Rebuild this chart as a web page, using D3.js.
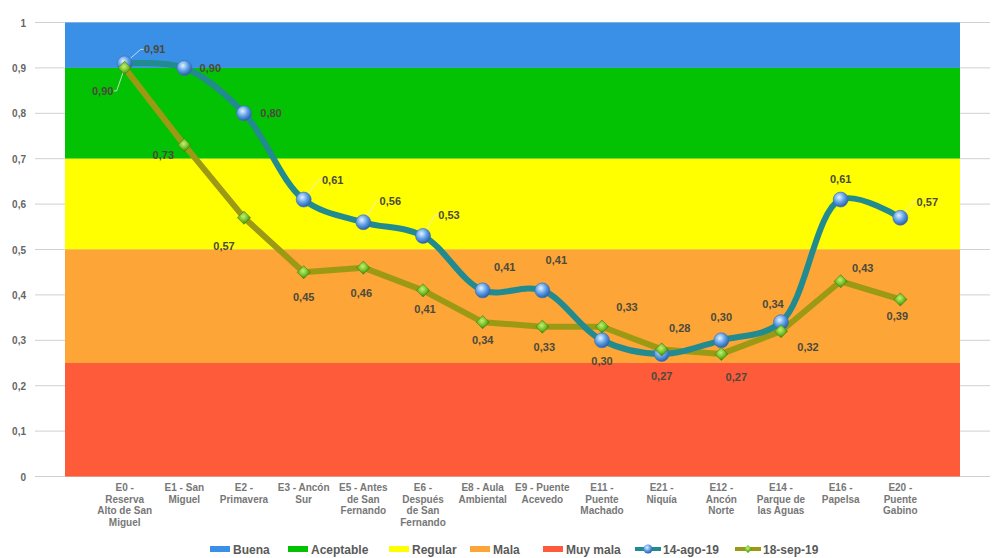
<!DOCTYPE html>
<html>
<head>
<meta charset="utf-8">
<script src="https://cdn.jsdelivr.net/npm/d3@7"></script>
<style>
  body { margin: 0; background: #fff; }
  text { font-family: "Liberation Sans", Arial, sans-serif; }
</style>
</head>
<body>
<svg id="drawing_region"></svg>
<script>
var width = 996;
var height = 558;

// data
var categories = [
  "E0 -\nReserva\nAlto de San\nMiguel",
  "E1 - San\nMiguel",
  "E2 -\nPrimavera",
  "E3 - Ancón\nSur",
  "E5 - Antes\nde San\nFernando",
  "E6 -\nDespués\nde San\nFernando",
  "E8 - Aula\nAmbiental",
  "E9 - Puente\nAcevedo",
  "E11 -\nPuente\nMachado",
  "E21 -\nNiquía",
  "E12 -\nAncón\nNorte",
  "E14 -\nParque de\nlas Aguas",
  "E16 -\nPapelsa",
  "E20 -\nPuente\nGabino"
];
var ago19 = [0.91, 0.90, 0.80, 0.61, 0.56, 0.53, 0.41, 0.41, 0.30, 0.27, 0.30, 0.34, 0.61, 0.57];
var sep19 = [0.90, 0.73, 0.57, 0.45, 0.46, 0.41, 0.34, 0.33, 0.33, 0.28, 0.27, 0.32, 0.43, 0.39];
var seriesNames = ["14-ago-19", "18-sep-19"];

var bandNames = ["Buena", "Aceptable", "Regular", "Mala", "Muy mala"];
var bandFrom  = [0.9, 0.7, 0.5, 0.25, 0];
var bandTo    = [1.0, 0.9, 0.7, 0.5, 0.25];
var bandColors = ["#3a8fe6", "#03c203", "#ffff00", "#fda537", "#fe5b3a"];

var yTicks = [0, 0.1, 0.2, 0.3, 0.4, 0.5, 0.6, 0.7, 0.8, 0.9, 1];

// label offsets (dx, dy) for each point, and which ones get a leader line
var agoOff = [[30,-14],[26,0],[27,0],[29,-20],[27,-21],[26,-21],[22,-23],[14,-30],[0,21],[0,22],[0,-23],[-8,-18],[0,-21],[27,-16]];
var sepOff = [[-22,23],[-21,10],[-20,28],[0,25],[-2,25],[2,19],[0,18],[2,20],[25,-20],[18,-21],[15,23],[27,16],[22,-13],[-3,17]];
var agoLead = [1,0,0,1,1,1,0,0,0,0,0,0,0,1];
var sepLead = [1,0,0,0,0,0,0,0,0,0,0,0,0,0];

var svg = d3.select('#drawing_region')
      .attr('width', width)
      .attr('height', height);

var plot = {left: 65, right: 960, top: 22.5, bottom: 476.5};

var xscale = d3.scalePoint()
      .domain(categories)
      .range([plot.left, plot.right])
      .padding(1);

var yscale = d3.scaleLinear()
      .domain([0, 1])
      .range([plot.bottom, plot.top]);

var fmt = v => d3.format('.2f')(v).replace('.', ',');

// gradients
var defs = svg.append('defs');
var sph = defs.append('radialGradient').attr('id', 'sphere')
      .attr('cx', '40%').attr('cy', '35%').attr('r', '65%');
sph.append('stop').attr('offset', '0%').attr('stop-color', '#e4f2ff');
sph.append('stop').attr('offset', '55%').attr('stop-color', '#5b9fe6');
sph.append('stop').attr('offset', '100%').attr('stop-color', '#2c5fa8');
var dia = defs.append('radialGradient').attr('id', 'diamond')
      .attr('cx', '45%').attr('cy', '40%').attr('r', '60%');
dia.append('stop').attr('offset', '0%').attr('stop-color', '#c8f070');
dia.append('stop').attr('offset', '60%').attr('stop-color', '#6cbd25');
dia.append('stop').attr('offset', '100%').attr('stop-color', '#3b7a10');

// gridlines
svg.append('g')
  .selectAll('line')
  .data(yTicks)
  .enter()
  .append('line')
  .attr('x1', 35).attr('x2', 990)
  .attr('y1', d => yscale(d)).attr('y2', d => yscale(d))
  .attr('stroke', '#d0d0d0')
  .attr('stroke-width', 1);

// quality bands
svg.append('g')
  .selectAll('rect')
  .data(bandNames)
  .enter()
  .append('rect')
  .attr('x', plot.left)
  .attr('width', plot.right - plot.left)
  .attr('y', (d, i) => yscale(bandTo[i]))
  .attr('height', (d, i) => yscale(bandFrom[i]) - yscale(bandTo[i]))
  .attr('fill', (d, i) => bandColors[i]);

// y axis labels
svg.append('g')
  .selectAll('text')
  .data(yTicks)
  .enter()
  .append('text')
  .attr('x', 26)
  .attr('y', d => yscale(d) + 4)
  .attr('text-anchor', 'end')
  .attr('font-size', 10)
  .attr('font-weight', 'bold')
  .attr('fill', '#666')
  .text(d => d === 0 || d === 1 ? String(d) : d3.format('.1f')(d).replace('.', ','));

// x axis labels
var xl = svg.append('g')
  .selectAll('text')
  .data(categories)
  .enter()
  .append('text')
  .attr('text-anchor', 'middle')
  .attr('font-size', 10)
  .attr('font-weight', 'bold')
  .attr('fill', '#777');
xl.each(function(d) {
  var t = d3.select(this);
  d.split('\n').forEach((s, i) => {
    t.append('tspan')
      .attr('x', xscale(d))
      .attr('y', 491 + i * 11.5)
      .text(s);
  });
});

// series lines
var smooth = d3.line()
      .x((d, i) => xscale(categories[i]))
      .y(d => yscale(d))
      .curve(d3.curveCatmullRom.alpha(0.5));
var straight = d3.line()
      .x((d, i) => xscale(categories[i]))
      .y(d => yscale(d));

svg.append('path')
  .attr('d', straight(sep19))
  .attr('stroke', '#9c9a14')
  .attr('stroke-width', 6)
  .attr('stroke-linejoin', 'round')
  .attr('fill', 'none');

svg.append('path')
  .attr('d', smooth(ago19))
  .attr('stroke', '#218b8f')
  .attr('stroke-width', 6)
  .attr('stroke-linecap', 'round')
  .attr('fill', 'none');

// leader lines
function leaders(values, off, lead) {
  svg.append('g')
    .selectAll('polyline')
    .data(values.map((v, i) => i).filter(i => lead[i]))
    .enter()
    .append('polyline')
    .attr('points', i => {
      var x = xscale(categories[i]), y = yscale(values[i]);
      var lx = x + off[i][0] + (off[i][0] > 0 ? -14 : 14), ly = y + off[i][1];
      return `${x},${y} ${lx},${ly} ${lx + (off[i][0] > 0 ? 3 : -3)},${ly}`;
    })
    .attr('fill', 'none')
    .attr('stroke', '#e8e8e8')
    .attr('stroke-width', 0.8);
}
leaders(ago19, agoOff, agoLead);
leaders(sep19, sepOff, sepLead);

// markers
svg.append('g')
  .selectAll('circle')
  .data(ago19)
  .enter()
  .append('circle')
  .attr('cx', (d, i) => xscale(categories[i]))
  .attr('cy', d => yscale(d))
  .attr('r', 7.5)
  .attr('fill', 'url(#sphere)')
  .attr('stroke', '#3a6fae')
  .attr('stroke-width', 0.6);

var diamond = d3.symbol().type(d3.symbolDiamond2).size(110);
svg.append('g')
  .selectAll('path')
  .data(sep19)
  .enter()
  .append('path')
  .attr('d', diamond)
  .attr('transform', (d, i) => `translate(${xscale(categories[i])},${yscale(d)})`)
  .attr('fill', 'url(#diamond)')
  .attr('stroke', '#4d7d15')
  .attr('stroke-width', 0.6);

// data labels
function labels(values, off) {
  svg.append('g')
    .selectAll('text')
    .data(values)
    .enter()
    .append('text')
    .attr('x', (d, i) => xscale(categories[i]) + off[i][0])
    .attr('y', (d, i) => yscale(d) + off[i][1] + 4)
    .attr('text-anchor', 'middle')
    .attr('font-size', 11)
    .attr('font-weight', 'bold')
    .attr('fill', '#4b4a3c')
    .text(d => fmt(d));
}
labels(ago19, agoOff);
labels(sep19, sepOff);

// legend
var legend = svg.append('g').attr('transform', 'translate(0, 549)');
var bandLegX = [210, 288, 389, 470, 543];
bandNames.forEach((n, i) => {
  legend.append('rect')
    .attr('x', bandLegX[i]).attr('y', -3)
    .attr('width', 20).attr('height', 6)
    .attr('fill', bandColors[i]);
  legend.append('text')
    .attr('x', bandLegX[i] + 23).attr('y', 4.5)
    .attr('font-size', 12)
    .attr('font-weight', 'bold')
    .attr('fill', '#5a5a5a')
    .text(n);
});
var serLegX = [635, 735];
var serColors = ['#218b8f', '#9c9a14'];
seriesNames.forEach((n, i) => {
  var x0 = serLegX[i];
  legend.append('line')
    .attr('x1', x0).attr('x2', x0 + 26)
    .attr('y1', 0).attr('y2', 0)
    .attr('stroke', serColors[i])
    .attr('stroke-width', 4);
  if (i === 0) {
    legend.append('circle').attr('cx', x0 + 13).attr('cy', 0).attr('r', 4.5)
      .attr('fill', 'url(#sphere)');
  } else {
    legend.append('path').attr('d', d3.symbol().type(d3.symbolDiamond2).size(40))
      .attr('transform', `translate(${x0 + 13},0)`)
      .attr('fill', 'url(#diamond)');
  }
  legend.append('text')
    .attr('x', x0 + 28).attr('y', 4.5)
    .attr('font-size', 12)
    .attr('font-weight', 'bold')
    .attr('fill', '#5a5a5a')
    .text(n);
});
</script>
</body>
</html>
